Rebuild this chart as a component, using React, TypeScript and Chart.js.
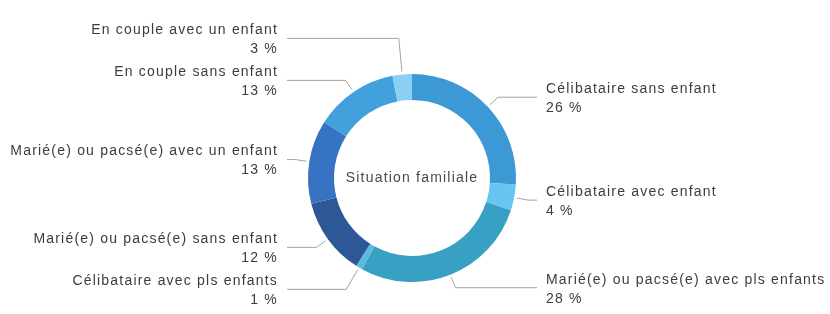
import React, { useEffect, useRef } from "react";
import { Chart, registerables } from "chart.js";

Chart.register(...registerables);

const categories = [
  "Célibataire sans enfant",
  "Célibataire avec enfant",
  "Marié(e) ou pacsé(e) avec pls enfants",
  "Célibataire avec pls enfants",
  "Marié(e) ou pacsé(e) sans enfant",
  "Marié(e) ou pacsé(e) avec un enfant",
  "En couple sans enfant",
  "En couple avec un enfant",
];
const shares = [26, 4, 28, 1, 12, 13, 13, 3];
const sliceColors = [
  "#3d98d6",
  "#68c4f0",
  "#38a0c2",
  "#5cb8e2",
  "#2d5795",
  "#3673c2",
  "#42a0dc",
  "#8ccff4",
];
const centerTitle = "Situation familiale";

const FONT = "14px 'Liberation Sans', Arial, Helvetica, sans-serif";

const outsideLabels = {
  id: "outsideLabels",
  afterDraw(chart: any) {
    const ctx = chart.ctx as CanvasRenderingContext2D;
    const meta = chart.getDatasetMeta(0);
    const items: any[] = [];
    meta.data.forEach((arc: any, i: number) => {
      const p = arc.getProps(["x", "y", "startAngle", "endAngle", "outerRadius"], true);
      const mid = (p.startAngle + p.endAngle) / 2;
      const dx = Math.cos(mid);
      const dy = Math.sin(mid);
      items.push({
        i,
        cx: p.x,
        cy: p.y,
        R: p.outerRadius,
        dx,
        dy,
        side: dx >= 0 ? 1 : -1,
        y: p.y + dy * (p.outerRadius + 14),
      });
    });

    const GAP = 42;
    [1, -1].forEach((side) => {
      const s = items.filter((it) => it.side === side);
      const upper = s.filter((it) => it.y < it.cy).sort((a, b) => b.y - a.y);
      for (let k = 1; k < upper.length; k++) {
        if (upper[k].y > upper[k - 1].y - GAP) upper[k].y = upper[k - 1].y - GAP;
      }
      const lower = s.filter((it) => it.y >= it.cy).sort((a, b) => a.y - b.y);
      for (let k = 1; k < lower.length; k++) {
        if (lower[k].y < lower[k - 1].y + GAP) lower[k].y = lower[k - 1].y + GAP;
      }
    });

    ctx.save();
    const ls = "1.2px";
    (ctx as any).letterSpacing = ls;
    items.forEach((it) => {
      const { cx, cy, R, dx, dy, side } = it;
      const p0x = cx + dx * (R + 3);
      const p0y = cy + dy * (R + 3);
      let t = 0;
      if (Math.abs(dy) > 0.05) t = (it.y - p0y) / dy;
      if (!(t > 0)) t = 0;
      if (t > 60) t = 60;
      const ex = p0x + dx * t;
      const lineEnd = cx + side * (R + 21);
      const textX = cx + side * (R + 30);

      ctx.strokeStyle = "#a3a3a3";
      ctx.lineWidth = 1;
      ctx.beginPath();
      ctx.moveTo(p0x, p0y);
      ctx.lineTo(ex, it.y);
      ctx.lineTo(lineEnd, it.y);
      ctx.stroke();

      ctx.font = FONT;
      ctx.fillStyle = "#3c3c3c";
      ctx.textBaseline = "middle";
      ctx.textAlign = side > 0 ? "left" : "right";
      ctx.fillText(categories[it.i], textX, it.y - 8);
      ctx.fillText(`${shares[it.i]} %`, textX, it.y + 11);
    });

    const first = items[0];
    if (first) {
      ctx.font = FONT;
      ctx.fillStyle = "#4a4a4a";
      ctx.textAlign = "center";
      ctx.textBaseline = "middle";
      ctx.fillText(centerTitle, first.cx, first.cy);
    }
    ctx.restore();
  },
};

export default function App() {
  const ref = useRef<HTMLCanvasElement | null>(null);

  useEffect(() => {
    document.body.style.margin = "0";
    const canvas = ref.current;
    if (!canvas) return;
    const chart = new Chart(canvas, {
      type: "doughnut",
      data: {
        labels: categories,
        datasets: [
          {
            data: shares,
            backgroundColor: sliceColors,
            borderWidth: 0,
          },
        ],
      },
      options: {
        responsive: false,
        animation: false,
        cutout: "75%",
        layout: { padding: { left: 308, right: 314, top: 74, bottom: 32 } },
        plugins: {
          legend: { display: false },
          tooltip: { enabled: false },
        },
      },
      plugins: [outsideLabels],
    });
    return () => chart.destroy();
  }, []);

  return (
    <div style={{ width: 830, height: 314, background: "#ffffff" }}>
      <canvas ref={ref} width={830} height={314} style={{ display: "block" }} />
    </div>
  );
}
